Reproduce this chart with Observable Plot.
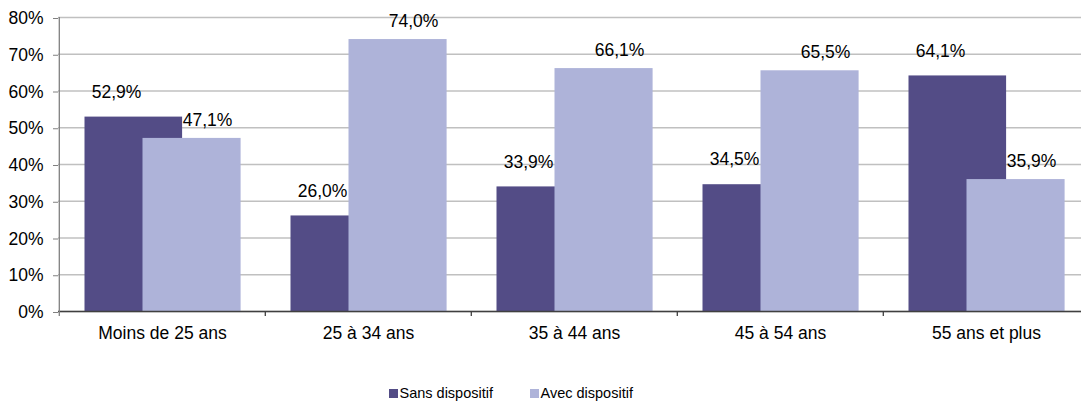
<!DOCTYPE html>
<html><head><meta charset="utf-8">
<script src="https://cdn.jsdelivr.net/npm/d3@7"></script>
<script src="https://cdn.jsdelivr.net/npm/@observablehq/plot@0.6"></script>
<style>
html,body{margin:0;padding:0;background:#fff;}
body{font-family:"Liberation Sans",Arial,sans-serif;width:1081px;height:407px;overflow:hidden;}
#chart svg{display:block;}
#legend{position:relative;height:37px;font-size:14.5px;color:#000;}
.item{position:absolute;top:15px;display:flex;align-items:center;white-space:nowrap;}
.sw{width:8.5px;height:8.5px;margin-right:2px;margin-top:1px;}
</style></head><body>
<div id="chart"></div>
<div id="legend"></div>
<script>
const categories = ["Moins de 25 ans", "25 à 34 ans", "35 à 44 ans", "45 à 54 ans", "55 ans et plus"];
const sansDispositif = [52.9, 26.0, 33.9, 34.5, 64.1];
const avecDispositif = [47.1, 74.0, 66.1, 65.5, 35.9];
const seriesNames = ["Sans dispositif", "Avec dispositif"];
const seriesColors = ["#534c86", "#aeb3d9"];
const yTicks = [0, 10, 20, 30, 40, 50, 60, 70, 80];

const W = 1081, H = 370, mL = 58, mR = -9, mT = 17, mB = 59;
const bw = (W - mL - mR) / categories.length;

const dark = categories.map((c, i) => ({cat: c, v: sansDispositif[i]}));
const light = categories.map((c, i) => ({cat: c, v: avecDispositif[i]}));
const fmt = v => v.toFixed(1).replace(".", ",") + "%";
const fontSize = 17.5;

const chart = Plot.plot({
  width: W, height: H,
  marginLeft: mL, marginRight: mR, marginTop: mT, marginBottom: mB,
  style: {fontFamily: '"Liberation Sans", Arial, sans-serif', fontSize: fontSize + "px", background: "#fff", color: "#000", overflow: "hidden"},
  x: {domain: categories, padding: 0, type: "band"},
  y: {domain: [0, 80]},
  marks: [
    Plot.gridY(yTicks, {stroke: "#c0c0c0", strokeOpacity: 1, strokeWidth: 1.3}),
    Plot.barY(dark, {x: "cat", y: "v", fill: seriesColors[0], insetLeft: 25.5, insetRight: bw - 123.5}),
    Plot.barY(light, {x: "cat", y: "v", fill: seriesColors[1], insetLeft: 83.5, insetRight: bw - 182}),
    Plot.ruleY([0], {stroke: "#404040", strokeWidth: 1.3}),
    Plot.ruleX([categories[0]], {x: d => d, dx: -bw / 2, y1: 80, y2: 0, insetBottom: -5, stroke: "#808080", strokeWidth: 1.3}),
    Plot.ruleX(categories.slice(1), {x: d => d, dx: -bw / 2, y1: 0, y2: 0, insetBottom: -5, stroke: "#404040", strokeWidth: 1.3}),
    Plot.axisY(yTicks, {tickSize: 5, tickPadding: 10, tickFormat: d => d + "%", label: null, stroke: "#808080", fill: "#000", fontSize: fontSize, dy: 1}),
    Plot.axisX({tickSize: 0, tickPadding: 15, label: null, fill: "#000", fontSize: fontSize}),
    Plot.text(dark, {x: "cat", y: "v", text: d => fmt(d.v), dx: -46, dy: -25, fill: "#000", fontSize: fontSize}),
    Plot.text(light, {x: "cat", y: "v", text: d => fmt(d.v), dx: 45, dy: -18, fill: "#000", fontSize: fontSize})
  ]
});
document.getElementById("chart").appendChild(chart);

const legend = document.getElementById("legend");
const lefts = [389, 530];
seriesNames.forEach((name, i) => {
  const it = document.createElement("div");
  it.className = "item";
  it.style.left = lefts[i] + "px";
  const sw = document.createElement("div");
  sw.className = "sw";
  sw.style.background = seriesColors[i];
  const t = document.createElement("span");
  t.textContent = name;
  it.appendChild(sw); it.appendChild(t);
  legend.appendChild(it);
});
</script>
</body></html>
